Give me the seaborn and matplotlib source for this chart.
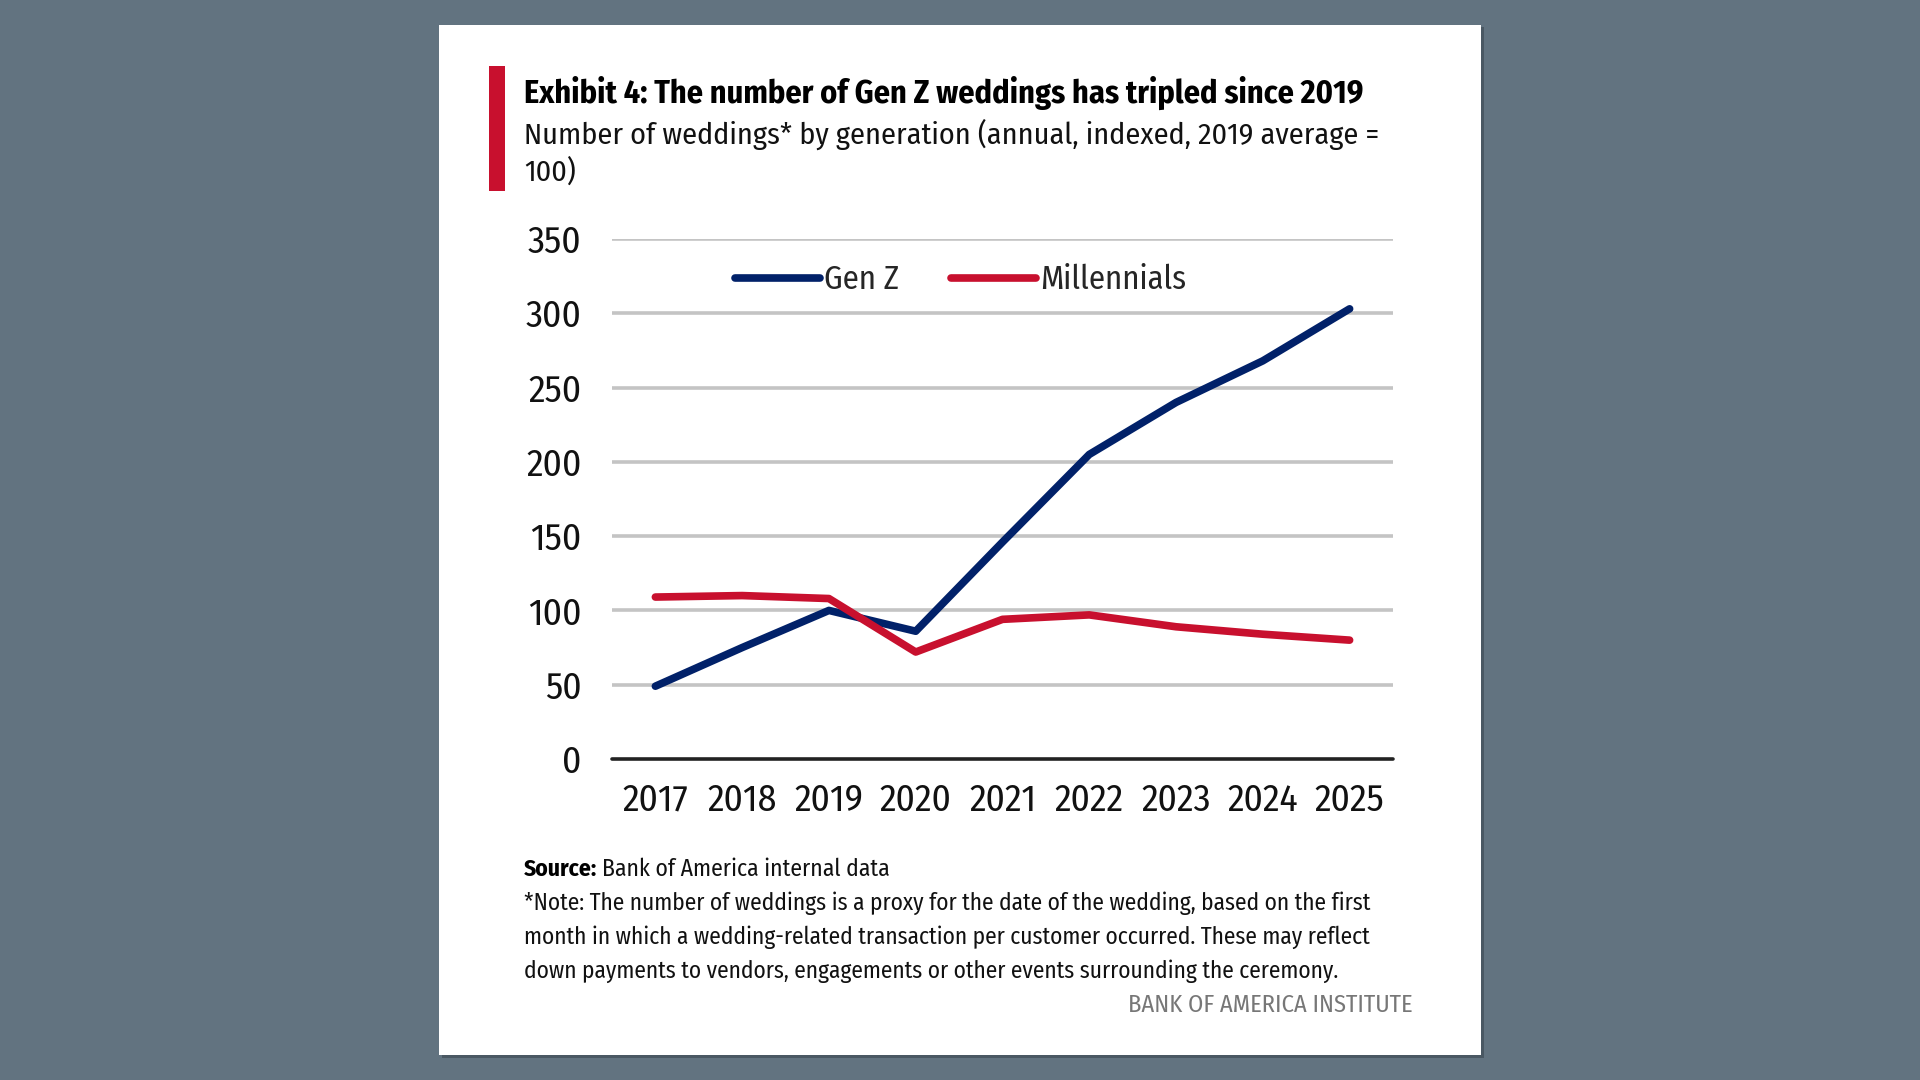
import numpy as np
import pandas as pd
import matplotlib as mpl
mpl.use("Agg")
import matplotlib.pyplot as plt
from matplotlib.patches import Rectangle
import seaborn as sns

years = ["2017", "2018", "2019", "2020", "2021", "2022", "2023", "2024", "2025"]
gen_z = [49, 75, 100, 86, 146, 205, 240, 268, 303]
millennials = [109, 110, 108, 72, 94, 97, 89, 84, 80]
series_names = ["Gen Z", "Millennials"]
y_ticks = [0, 50, 100, 150, 200, 250, 300, 350]

navy = "#012169"
red = "#C8102E"
bg = "#627380"

df = pd.DataFrame({
    "Year": years * 2,
    "Index": gen_z + millennials,
    "Generation": [series_names[0]] * len(years) + [series_names[1]] * len(years),
})
df["pos"] = df["Year"].map({y: i for i, y in enumerate(years)})

sns.set_theme(style="white")
plt.rcParams["font.family"] = ["Fira Sans Condensed", "DejaVu Sans"]
plt.rcParams["font.stretch"] = "condensed"

fig = plt.figure(figsize=(19.2, 10.8), dpi=100, facecolor=bg)


def fx(px):
    return px / 1920


def fy(px):
    return 1 - px / 1080


# card with a soft shadow
fig.patches.append(Rectangle((fx(442), fy(1058)), fx(1042), 1031 / 1080,
                             transform=fig.transFigure, facecolor="#2e3840", alpha=0.45,
                             edgecolor="none", zorder=0))
fig.patches.append(Rectangle((fx(439), fy(1055)), fx(1042), 1030 / 1080,
                             transform=fig.transFigure, facecolor="white",
                             edgecolor="none", zorder=1))
# red accent bar
fig.patches.append(Rectangle((fx(489), fy(191)), fx(16), 125 / 1080,
                             transform=fig.transFigure, facecolor=red,
                             edgecolor="none", zorder=2))

ax = fig.add_axes([fx(612), fy(759), fx(1393 - 612), (759 - 239) / 1080])
ax.set_facecolor("none")
ax.set_zorder(3)

sns.lineplot(data=df, x="pos", y="Index", hue="Generation",
             palette={series_names[0]: navy, series_names[1]: red},
             linewidth=5.5, ax=ax, legend=True, zorder=3)

ax.set_xlim(-0.5, len(years) - 0.5)
ax.set_ylim(0, 350)
ax.set_xticks(range(len(years)))
ax.set_xticklabels(years)
ax.set_yticks(y_ticks)
ax.tick_params(axis="both", length=0, labelsize=27, colors="#111111")
ax.tick_params(axis="x", pad=17)
ax.tick_params(axis="y", pad=22)
ax.set_xlabel("")
ax.set_ylabel("")
for s in ax.spines.values():
    s.set_visible(False)
for t in y_ticks[1:]:
    ax.axhline(t, color="#c4c4c4", linewidth=2.6, zorder=1)
ax.axhline(0, color="#222222", linewidth=2.6, zorder=2, clip_on=False)

leg = ax.legend(loc="center left", bbox_to_anchor=(0.158, 0.921), ncol=2, frameon=False,
                fontsize=23.5, handlelength=2.6, handletextpad=0.12, columnspacing=1.6,
                borderaxespad=0, borderpad=0)
for h in leg.get_lines():
    h.set_linewidth(5.5)
    h.set_solid_capstyle("round")

fig.text(fx(524), fy(93), "Exhibit 4: The number of Gen Z weddings has tripled since 2019",
         fontsize=23.2, fontweight="bold", va="center", ha="left", color="#000000")
fig.text(fx(524), fy(134), "Number of weddings* by generation (annual, indexed, 2019 average =",
         fontsize=21.7, va="center", ha="left", color="#111111")
fig.text(fx(524), fy(172), "100)", fontsize=21.7, va="center", ha="left", color="#111111")

src = fig.text(fx(524), fy(869), "Source:", fontsize=17, fontweight="bold",
               va="center", ha="left", color="#000000")
fig.canvas.draw()
src_end = src.get_window_extent().x1
fig.text(fx(src_end + 5), fy(869), "Bank of America internal data", fontsize=17,
         va="center", ha="left", color="#111111")
notes = [
    "*Note: The number of weddings is a proxy for the date of the wedding, based on the first",
    "month in which a wedding-related transaction per customer occurred. These may reflect",
    "down payments to vendors, engagements or other events surrounding the ceremony.",
]
for i, line in enumerate(notes):
    fig.text(fx(524), fy(903 + 34 * i), line, fontsize=16.9,
             va="center", ha="left", color="#111111")
fig.text(fx(1412), fy(1005), "BANK OF AMERICA INSTITUTE", fontsize=17.6,
         va="center", ha="right", color="#777777")

fig.savefig("out.png", dpi=100, facecolor=bg)
